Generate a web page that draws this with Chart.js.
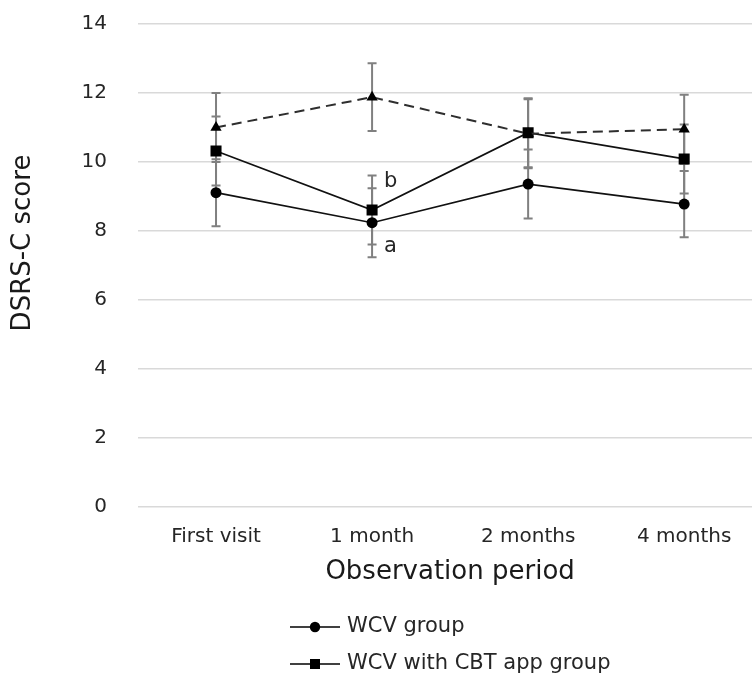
<!DOCTYPE html>
<html>
<head>
<meta charset="utf-8">
<script src="https://cdn.jsdelivr.net/npm/chart.js@4/dist/chart.umd.min.js"></script>
<style>
html, body { margin: 0; padding: 0; background: #fff; overflow: hidden; }
#wrap { position: relative; width: 770px; height: 675px; }
</style>
</head>
<body>
<div id="wrap"><canvas id="c" width="770" height="675"></canvas></div>
<script>
// Observation points
const periods = ['First visit', '1 month', '2 months', '4 months'];

// Mean DSRS-C scores and their spread (± bars) per group
const wcvMean  = [9.11, 8.24, 9.36, 8.78];
const wcvSD    = [0.97, 1.00, 1.00, 0.96];
const appMean  = [10.32, 8.61, 10.85, 10.09];
const appSD    = [1.00, 1.00, 1.00, 1.00];
const compMean = [11.00, 11.88, 10.82, 10.95];
const compSD   = [1.00, 0.98, 1.00, 1.00];

// Y axis tick values
const yTicks = [0, 2, 4, 6, 8, 10, 12, 14];

// Significance letters placed beside the 1-month points
const noteTexts   = ['b', 'a'];
const notePeriods = [1, 1];
const noteValues  = [9.42, 7.55];

const FONT = '"DejaVu Sans", Verdana, sans-serif';
const TEXT = '#262626';

// Vertical ± bars with caps, drawn beneath the lines and markers
const errorBars = {
  id: 'errorBars',
  beforeDatasetsDraw(chart) {
    const { ctx, scales: { x, y } } = chart;
    ctx.save();
    ctx.strokeStyle = '#808080';
    ctx.lineWidth = 2;
    chart.data.datasets.forEach(ds => {
      ds.data.forEach((v, i) => {
        const px = x.getPixelForValue(i);
        const top = y.getPixelForValue(v + ds.spread[i]);
        const bot = y.getPixelForValue(v - ds.spread[i]);
        ctx.beginPath();
        ctx.moveTo(px, top); ctx.lineTo(px, bot);
        ctx.moveTo(px - 4.5, top); ctx.lineTo(px + 4.5, top);
        ctx.moveTo(px - 4.5, bot); ctx.lineTo(px + 4.5, bot);
        ctx.stroke();
      });
    });
    ctx.restore();
  }
};

// Letters next to points
const notesPlugin = {
  id: 'notes',
  afterDatasetsDraw(chart) {
    const { ctx, scales: { x, y } } = chart;
    ctx.save();
    ctx.font = '21px ' + FONT;
    ctx.fillStyle = TEXT;
    ctx.textAlign = 'left';
    ctx.textBaseline = 'middle';
    noteTexts.forEach((t, k) => {
      ctx.fillText(t, x.getPixelForValue(notePeriods[k]) + 12, y.getPixelForValue(noteValues[k]));
    });
    ctx.restore();
  }
};

// Rotated y-axis title, set a little above the middle of the plot
const yTitle = {
  id: 'yTitle',
  afterDraw(chart) {
    const { ctx } = chart;
    ctx.save();
    ctx.translate(23, 243);
    ctx.rotate(-Math.PI / 2);
    ctx.font = '26px ' + FONT;
    ctx.fillStyle = '#1a1a1a';
    ctx.textAlign = 'center';
    ctx.textBaseline = 'middle';
    ctx.fillText('DSRS-C score', 0, 0);
    ctx.restore();
  }
};

// Stacked legend below the axis title: line, marker, label
const stackedLegend = {
  id: 'stackedLegend',
  afterDraw(chart) {
    const { ctx } = chart;
    const shown = chart.data.datasets
      .filter(d => d.legendRow !== undefined)
      .sort((a, b) => a.legendRow - b.legendRow);
    ctx.save();
    shown.forEach((ds, k) => {
      const cy = 627 + k * 37;
      ctx.strokeStyle = '#000';
      ctx.lineWidth = 1.6;
      ctx.beginPath();
      ctx.moveTo(290, cy); ctx.lineTo(340, cy);
      ctx.stroke();
      ctx.fillStyle = '#000';
      if (ds.pointStyle === 'circle') {
        ctx.beginPath();
        ctx.arc(315, cy, 5.2, 0, Math.PI * 2);
        ctx.fill();
      } else {
        ctx.fillRect(310, cy - 5, 10, 10);
      }
      ctx.font = '21px ' + FONT;
      ctx.fillStyle = TEXT;
      ctx.textAlign = 'left';
      ctx.textBaseline = 'middle';
      ctx.fillText(ds.label, 347, cy);
    });
    ctx.restore();
  }
};

new Chart(document.getElementById('c'), {
  type: 'line',
  data: {
    labels: periods,
    datasets: [
      {
        label: 'Comparison group',
        data: compMean, spread: compSD,
        borderColor: '#2e2e2e', borderWidth: 2, borderDash: [10, 6],
        pointStyle: 'triangle', pointRadius: 6.5,
        pointBackgroundColor: '#000', pointBorderColor: '#000', pointBorderWidth: 0,
        tension: 0
      },
      {
        label: 'WCV with CBT app group',
        data: appMean, spread: appSD, legendRow: 1,
        borderColor: '#111111', borderWidth: 1.7,
        pointStyle: 'rect', pointRadius: 7.8,
        pointBackgroundColor: '#000', pointBorderColor: '#000', pointBorderWidth: 0,
        tension: 0
      },
      {
        label: 'WCV group',
        data: wcvMean, spread: wcvSD, legendRow: 0,
        borderColor: '#111111', borderWidth: 1.7,
        pointStyle: 'circle', pointRadius: 5.5,
        pointBackgroundColor: '#000', pointBorderColor: '#000', pointBorderWidth: 0,
        tension: 0
      }
    ]
  },
  options: {
    responsive: false,
    animation: false,
    events: [],
    layout: { padding: { top: 24, right: 5, bottom: 78, left: 0 } },
    plugins: {
      legend: { display: false },
      tooltip: { enabled: false }
    },
    scales: {
      x: {
        type: 'category',
        offset: true,
        grid: { display: false, drawTicks: false },
        border: { display: false },
        ticks: { color: TEXT, font: { family: FONT, size: 20 }, padding: 18, maxRotation: 0 },
        title: { display: true, text: 'Observation period', color: '#1a1a1a', font: { family: FONT, size: 26 }, padding: { top: 9, bottom: 9 } },
        afterFit(s) { s.height = 90; }
      },
      y: {
        min: 0, max: 14,
        afterBuildTicks(s) { s.ticks = yTicks.map(v => ({ value: v })); },
        grid: { color: '#d9d9d9', lineWidth: 1.5, drawTicks: true, tickLength: 31, tickColor: 'rgba(0,0,0,0)' },
        border: { display: false },
        ticks: { color: TEXT, font: { family: FONT, size: 20 }, padding: 0 },
        title: { display: false },
        afterFit(s) { s.width = 138; }
      }
    }
  },
  plugins: [errorBars, notesPlugin, yTitle, stackedLegend]
});
</script>
</body>
</html>
